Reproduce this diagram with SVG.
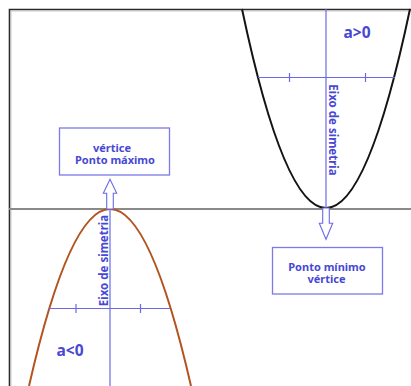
<svg xmlns="http://www.w3.org/2000/svg" width="411" height="386" viewBox="0 0 411 386">
<style>
.t{font-family:"Noto Sans","Liberation Sans",sans-serif;font-weight:bold;fill:#4848d4;}
.bl{stroke:#6a6ae6;stroke-width:1.2;fill:none;}
.box{fill:#fff;stroke:#7a7ae8;stroke-width:1.3;}
.arr{fill:#fff;stroke:#6a6ae6;stroke-width:1.1;}
</style>
<rect width="411" height="386" fill="#fff"/>
<g id="frame">
<path d="M9.5,386 V9.5 H411" fill="none" stroke="#2a2a2a" stroke-width="1.6"/>
<path d="M11,386 V11 H411" fill="none" stroke="#bbbbbb" stroke-width="0.8"/>
</g>
<g id="x-axis">
<line x1="9" y1="209" x2="411" y2="209" stroke="#8a8a8a" stroke-width="2"/>
</g>
<g id="parabola-up">
<path d="M242,9 Q326,407 410,9" fill="none" stroke="#141414" stroke-width="2"/>
</g>
<g id="parabola-down">
<path d="M29,386 Q110,32 191,386" fill="none" stroke="#b3541e" stroke-width="2"/>
</g>
<g id="connectors">
<line class="bl" x1="326" y1="9" x2="326" y2="208"/>
<line class="bl" x1="258" y1="77.5" x2="395" y2="77.5"/>
<line class="bl" x1="289.5" y1="73" x2="289.5" y2="82"/>
<line class="bl" x1="365.5" y1="73" x2="365.5" y2="82"/>
<line class="bl" x1="110" y1="209" x2="110" y2="386"/>
<line class="bl" x1="49" y1="308.5" x2="170" y2="308.5"/>
<line class="bl" x1="76" y1="304" x2="76" y2="313"/>
<line class="bl" x1="140.5" y1="304" x2="140.5" y2="313"/>
<path class="arr" d="M106.7,209 V193.3 H103.3 L110,179.3 L116.7,193.3 H113.3 V209 Z"/>
<path class="arr" d="M322.7,208 V223.3 H319.3 L326,239.3 L332.7,223.3 H329.3 V208 Z"/>
</g>
<g id="label-a-pos">
<text class="t" x="357" y="38" font-size="15.5" text-anchor="middle">a&gt;0</text>
</g>
<g id="label-a-neg">
<text class="t" x="70" y="356" font-size="15.5" text-anchor="middle">a&lt;0</text>
</g>
<g id="axis-label-up">
<text class="t" font-size="11.5" text-anchor="middle" transform="translate(329,130) rotate(90)">Eixo de simetria</text>
</g>
<g id="axis-label-down">
<text class="t" font-size="11.5" text-anchor="middle" transform="translate(108,260.5) rotate(-90)">Eixo de simetria</text>
</g>
<g id="box-max">
<rect class="box" x="59.5" y="128" width="110" height="47"/>
<text class="t" font-size="11" text-anchor="middle"><tspan x="112" y="151.5">vértice</tspan><tspan x="115" y="163.5">Ponto máximo</tspan></text>
</g>
<g id="box-min">
<rect class="box" x="272.5" y="247.5" width="110" height="46.5"/>
<text class="t" font-size="11" text-anchor="middle"><tspan x="327" y="270.5">Ponto mínimo</tspan><tspan x="326.5" y="282.5">vértice</tspan></text>
</g>
</svg>
